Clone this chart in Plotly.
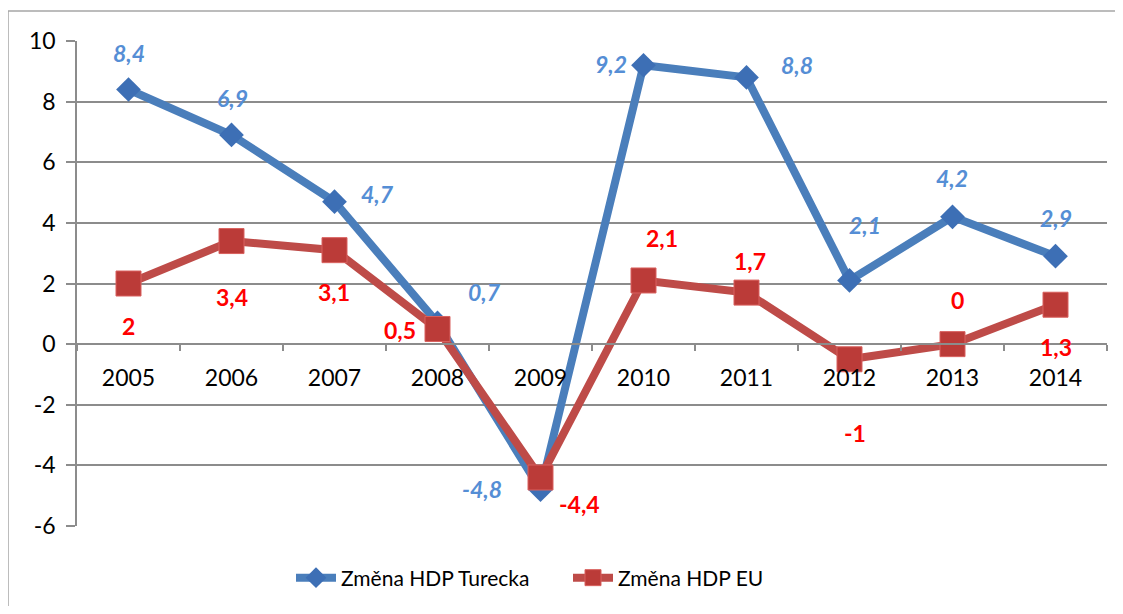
import plotly.graph_objects as go

years = ["2005", "2006", "2007", "2008", "2009", "2010", "2011", "2012", "2013", "2014"]
turkey = [8.4, 6.9, 4.7, 0.7, -4.8, 9.2, 8.8, 2.1, 4.2, 2.9]
eu = [2.0, 3.4, 3.1, 0.5, -4.4, 2.1, 1.7, -0.5, 0.0, 1.3]
turkey_labels = ["8,4", "6,9", "4,7", "0,7", "-4,8", "9,2", "8,8", "2,1", "4,2", "2,9"]
eu_labels = ["2", "3,4", "3,1", "0,5", "-4,4", "2,1", "1,7", "-1", "0", "1,3"]
y_ticks = [-6, -4, -2, 0, 2, 4, 6, 8, 10]

# label offsets in screen pixels (dx right, dy down)
turkey_off = [(0, -37), (1, -37), (43, -8), (47, -31), (-59, -1), (-33, -1), (50, -12), (15, -55), (-1, -39), (0, -38)]
eu_off = [(0, 42), (0, 56), (-1, 42), (-38, 1), (39, 26), (18, -42), (3, -32), (5, 74), (5, -44), (0, 42)]

FONT = "Lato"
BLUE_LINE = "#4A7EBB"
BLUE_MARK = "#3D6FB5"
RED_LINE = "#BE4B48"
RED_MARK = "#BB3B38"
BLUE_TXT = "#558ED5"
RED_TXT = "#FF0000"
GRID = "#8C8C8C"
BORDER = "#A6A6A6"

# the page body adds an 8px offset; compensate so the picture lines up with the window
BODY = 8
W, H = 1123 - 2 * BODY, 614 - 2 * BODY

fig = go.Figure()
fig.add_trace(go.Scatter(
    x=years, y=turkey, name="Změna HDP Turecka", mode="lines+markers",
    line=dict(color=BLUE_LINE, width=8),
    marker=dict(symbol="diamond", size=19, color=BLUE_MARK, line=dict(color=BLUE_MARK, width=0)),
))
fig.add_trace(go.Scatter(
    x=years, y=eu, name="Změna HDP EU", mode="lines+markers",
    line=dict(color=RED_LINE, width=8),
    marker=dict(symbol="square", size=25, color=RED_MARK, line=dict(color="#D9615E", width=1)),
))

annotations = []
for i, (v, t, (dx, dy)) in enumerate(zip(turkey, turkey_labels, turkey_off)):
    annotations.append(dict(x=i, y=v, xref="x", yref="y", text="<b><i>" + t + "</i></b>", showarrow=False,
                            xanchor="center", yanchor="middle", xshift=dx, yshift=-dy,
                            font=dict(family=FONT, size=23, color=BLUE_TXT)))
for i, (v, t, (dx, dy)) in enumerate(zip(eu, eu_labels, eu_off)):
    annotations.append(dict(x=i, y=v, xref="x", yref="y", text="<b>" + t + "</b>", showarrow=False,
                            xanchor="center", yanchor="middle", xshift=dx, yshift=-dy,
                            font=dict(family=FONT, size=23, color=RED_TXT)))

ymin, ymax = -6, 10
plot_l, plot_r, plot_t, plot_b = 77 - BODY, 1107 - BODY, 41 - BODY, 526 - BODY

bx = (8 - 77) / 1030
by = (526 - 11) / 485

fig.update_layout(
    width=W, height=H,
    margin=dict(l=plot_l, r=W - plot_r, t=plot_t, b=H - plot_b, autoexpand=False),
    paper_bgcolor="white", plot_bgcolor="white",
    font=dict(family=FONT, size=22, color="black"),
    showlegend=True,
    legend=dict(orientation="h", x=(568 - 77) / 1030, xanchor="center",
                y=(526 - 578) / 485, yanchor="middle",
                font=dict(family=FONT, size=21, color="black"), bgcolor="rgba(0,0,0,0)",
                itemwidth=40, tracegroupgap=0, entrywidth=222, entrywidthmode="pixels"),
    annotations=annotations,
    xaxis=dict(
        type="category", anchor="free", position=(0 - ymin) / (ymax - ymin),
        showgrid=False, showline=True, linecolor=GRID, linewidth=1.5,
        ticks="outside", tickson="boundaries", ticklen=6, tickcolor=GRID, tickwidth=1.5,
        tickfont=dict(family=FONT, size=23, color="black"), ticklabelstandoff=14,
        range=[-0.5, len(years) - 0.5],
    ),
    yaxis=dict(
        range=[ymin, ymax], tickvals=y_ticks, ticktext=[str(v) for v in y_ticks],
        showgrid=True, gridcolor=GRID, gridwidth=1.5, zeroline=False,
        showline=True, linecolor=GRID, linewidth=1.5,
        ticks="outside", ticklen=9, tickcolor=GRID, tickwidth=1.5,
        tickfont=dict(family=FONT, size=23, color="black"), ticklabelstandoff=6,
    ),
    shapes=[
        dict(type="line", xref="paper", yref="paper", x0=bx, x1=1.2, y0=by, y1=by,
             line=dict(color=BORDER, width=1.5), layer="below"),
        dict(type="line", xref="paper", yref="paper", x0=bx, x1=bx, y0=-0.5, y1=by,
             line=dict(color=BORDER, width=1.5), layer="below"),
    ],
)

fig.write_html("out.html")
